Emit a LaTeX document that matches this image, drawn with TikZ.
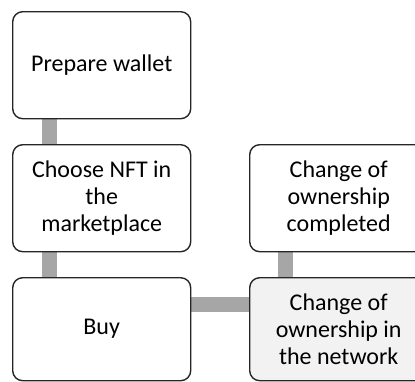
\documentclass[tikz,border=0pt]{standalone}
\usepackage{fontspec}
\setmainfont{Carlito}
\usetikzlibrary{backgrounds}
\definecolor{bargray}{HTML}{A6A6A6}
\definecolor{boxline}{HTML}{262626}
\definecolor{softfill}{HTML}{F2F2F2}
\tikzset{
  stepbox/.style={draw=boxline, line width=1.4pt, rounded corners=10pt, fill=white,
    minimum width=178pt, minimum height=107pt, inner sep=0pt, align=center,
    font=\fontsize{24}{27}\selectfont, anchor=north west},
  link/.style={draw=bargray, line width=15pt, line cap=butt}
}
\begin{document}
\begin{tikzpicture}[x=1pt,y=-1pt]
\useasboundingbox (0,0) rectangle (415,381);
\clip (0,0) rectangle (415,381);
\node[stepbox] (wallet) at (12,11) {Prepare wallet};
\node[stepbox] (choose) at (12,144) {Choose NFT in\\the\\marketplace};
\node[stepbox, minimum height=103pt] (buy) at (12,277) {Buy};
\node[stepbox] (done) at (249,144) {Change of\\ownership\\completed};
\node[stepbox, fill=softfill, minimum height=103pt] (net) at (249,277) {Change of\\ownership in\\the network};
\begin{scope}[on background layer]
\draw[link] ([xshift=37pt]wallet.south west) -- ([xshift=37pt]choose.north west);
\draw[link] ([xshift=37pt]choose.south west) -- ([xshift=37pt]buy.north west);
\draw[link] ([yshift=-27pt]buy.north east) -- ([yshift=-27pt]net.north west);
\draw[link] ([xshift=36pt]done.south west) -- ([xshift=36pt]net.north west);
\end{scope}
\end{tikzpicture}
\end{document}
